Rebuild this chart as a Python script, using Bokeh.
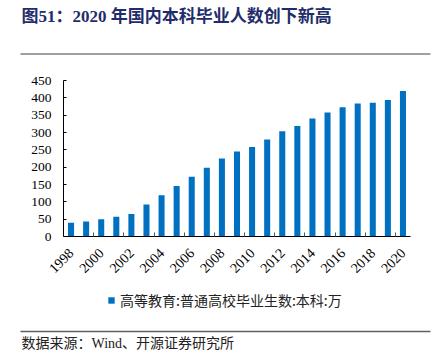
import math
from bokeh.plotting import figure
from bokeh.layouts import column
from bokeh.models import (FixedTicker, Legend, LegendItem, ColumnDataSource, Range1d)
from bokeh.core.properties import value
from bokeh.embed import file_html
from bokeh.resources import INLINE

# ---- data ----
years = list(range(1998, 2021))
graduates = [40, 43.5, 49.5, 57, 65, 92.5, 119, 145.5, 172, 198.5, 225, 245,
             258.5, 279.5, 303.5, 319, 340.5, 357.5, 373, 384, 386, 394, 420]
label_years = list(range(1998, 2021, 2))
y_ticks = [0, 50, 100, 150, 200, 250, 300, 350, 400, 450]
series_name = "高等教育:普通高校毕业生数:本科:万"
title_text = "图51：2020 年国内本科毕业人数创下新高"
source_text = "数据来源：Wind、开源证券研究所"

SERIF = "Liberation Serif"
CJK = "Noto Sans CJK SC"
MIXED = f"{SERIF}, {CJK}"
W = 434
BAR_COLOR = "#0070C0"

src = ColumnDataSource(dict(year=years, value=graduates))


def deco_figure(height):
    f = figure(width=W, height=height, output_backend="svg", toolbar_location=None,
               x_range=Range1d(0, W), y_range=Range1d(height, 0),
               x_axis_type=None, y_axis_type=None, min_border=0,
               frame_align=False)
    f.title.visible = False
    f.outline_line_color = None
    f.xgrid.visible = False
    f.ygrid.visible = False
    return f


# ---- header ----
top = deco_figure(60)
top.text(x=[21], y=[16], text=[title_text], text_font=value(MIXED),
         text_font_size="17px", text_font_style="bold", text_color="#1F2D6B",
         text_baseline="middle", text_align="left")
top.segment(x0=[20], y0=[53.5], x1=[430], y1=[53.5], line_color="#808080", line_width=1.5)

# ---- main chart ----
p = figure(width=W, height=226, output_backend="svg", toolbar_location=None,
           x_range=Range1d(years[0] - 0.5, years[-1] + 0.5),
           y_range=Range1d(y_ticks[0], y_ticks[-1]),
           min_border_left=63, min_border_right=24,
           min_border_top=20, min_border_bottom=50, frame_align=False)
p.title.visible = False
p.outline_line_color = None
p.xgrid.visible = False
p.ygrid.visible = False

r = p.vbar(x="year", top="value", width=0.4, source=src,
           fill_color=BAR_COLOR, line_color=None)

p.yaxis.ticker = FixedTicker(ticks=y_ticks)
p.yaxis.major_tick_in = 3
p.yaxis.major_tick_out = 0
p.yaxis.minor_tick_line_color = None
p.yaxis.axis_line_color = "black"
p.yaxis.major_tick_line_color = "black"
p.yaxis.major_label_text_font = SERIF
p.yaxis.major_label_text_font_size = "13.5px"
p.yaxis.major_label_text_color = "black"
p.yaxis.major_label_standoff = 12

boundaries = [y + 1.5 for y in label_years[:-1]]
p.xaxis.ticker = FixedTicker(ticks=label_years, minor_ticks=boundaries)
p.xaxis.major_tick_in = 0
p.xaxis.major_tick_out = 0
p.xaxis.minor_tick_in = 4
p.xaxis.minor_tick_out = 0
p.xaxis.minor_tick_line_color = "#555555"
p.xaxis.axis_line_color = "black"
p.xaxis.axis_line_width = 1.2
p.xaxis.major_label_orientation = math.pi / 4
p.xaxis.major_label_text_font = SERIF
p.xaxis.major_label_text_font_size = "14px"
p.xaxis.major_label_text_color = "black"
p.xaxis.major_label_standoff = 14

# ---- legend + footer ----
bottom = deco_figure(78)
key = bottom.vbar(x="year", top="value", width=0.4, source=src,
                  fill_color=BAR_COLOR, line_color=None, visible=False)
legend = Legend(items=[LegendItem(label=series_name, renderers=[key])],
                location=(107, 54), orientation="horizontal",
                glyph_width=8, glyph_height=8, label_standoff=5,
                label_text_font=CJK, label_text_font_size="14px",
                label_text_color="#222222",
                padding=0, margin=0, spacing=0,
                border_line_color=None, background_fill_alpha=0)
bottom.add_layout(legend)
bottom.segment(x0=[20], y0=[45], x1=[430], y1=[45], line_color="#606060", line_width=1.5)
bottom.text(x=[21], y=[57], text=[source_text], text_font=value(MIXED),
            text_font_size="14px", text_color="#222222",
            text_baseline="middle", text_align="left")

layout = column(top, p, bottom, spacing=0)
open("out.html", "w").write(file_html(layout, INLINE))
